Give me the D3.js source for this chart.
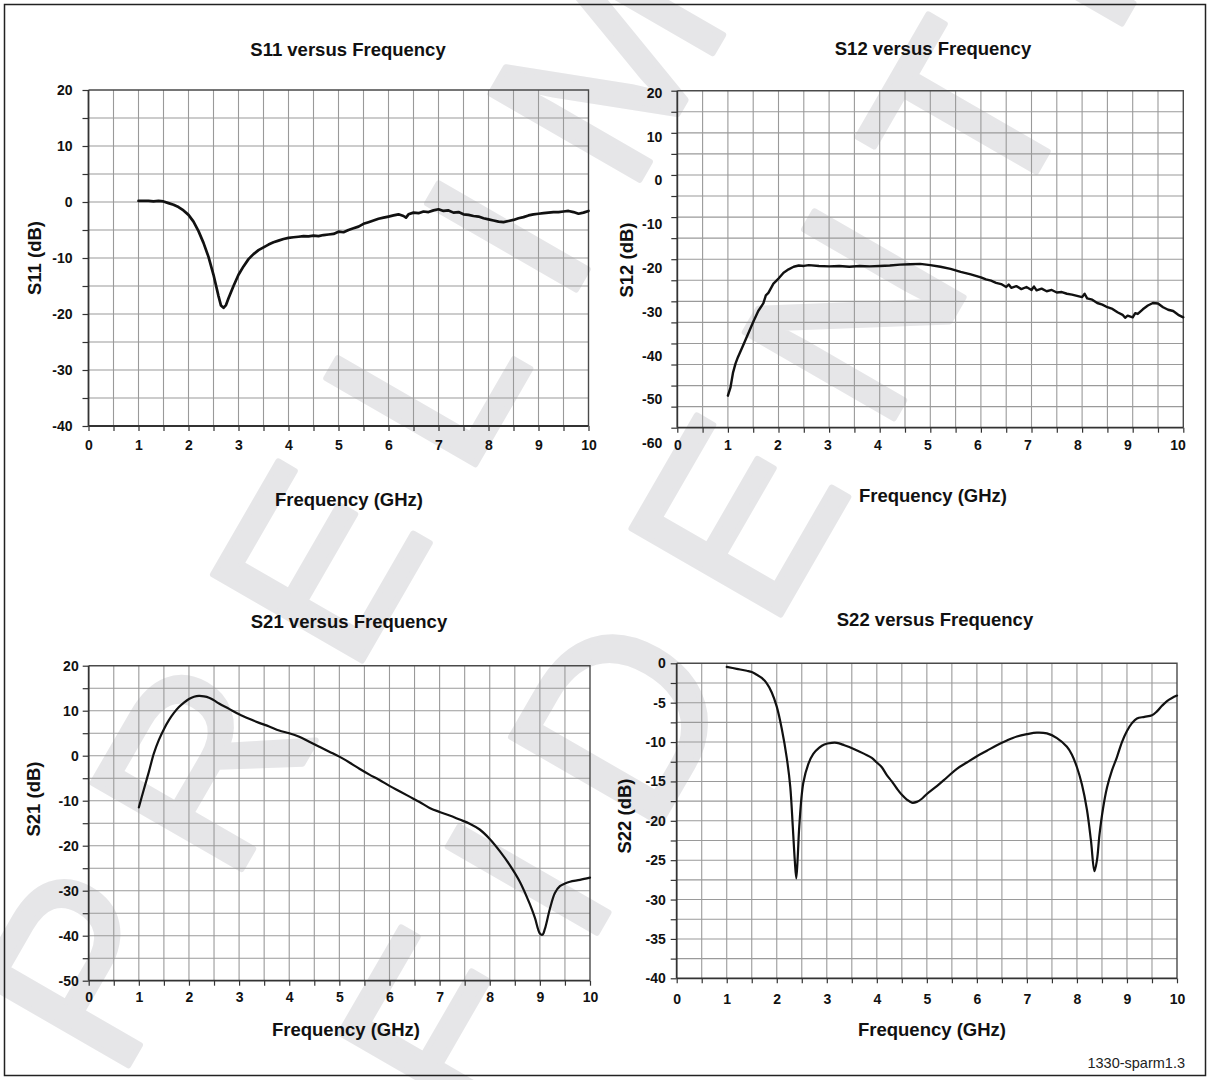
<!DOCTYPE html>
<html><head><meta charset="utf-8">
<script src="https://cdn.jsdelivr.net/npm/d3@7"></script>
<style>
body{margin:0;background:#fff}
svg{display:block}
text{font-family:"Liberation Sans",Arial,Helvetica,sans-serif}
</style>
</head><body>
<svg id="chart" width="1212" height="1080"></svg>
<script>
// ---------- data ----------
const freqTicks = [0,1,2,3,4,5,6,7,8,9,10];
const s11Ticks = [20,10,0,-10,-20,-30,-40];
const s12Ticks = [20,10,0,-10,-20,-30,-40,-50,-60];
const s21Ticks = [20,10,0,-10,-20,-30,-40,-50];
const s22Ticks = [0,-5,-10,-15,-20,-25,-30,-35,-40];

const s11Freq = [1.0,1.1,1.2,1.3,1.4,1.5,1.6,1.7,1.8,1.9,2.0,2.1,2.2,2.3,2.4,2.5,2.6,2.65,2.7,2.75,2.8,2.9,3.0,3.1,3.2,3.3,3.4,3.5,3.6,3.7,3.8,3.9,4.0,4.1,4.2,4.3,4.4,4.5,4.6,4.7,4.8,4.9,5.0,5.1,5.2,5.3,5.4,5.5,5.6,5.7,5.8,5.9,6.0,6.1,6.2,6.3,6.35,6.4,6.5,6.6,6.7,6.8,6.9,7.0,7.1,7.2,7.3,7.4,7.5,7.6,7.7,7.8,7.9,8.0,8.1,8.2,8.3,8.4,8.5,8.6,8.7,8.8,8.9,9.0,9.1,9.2,9.3,9.4,9.5,9.6,9.7,9.8,9.9,10.0];
const s11Db = [0.2,0.2,0.2,0.1,0.2,0.1,-0.2,-0.5,-0.9,-1.5,-2.3,-3.5,-5.2,-7.3,-9.8,-13.0,-16.8,-18.5,-18.9,-18.4,-17.2,-15.0,-13.0,-11.5,-10.2,-9.3,-8.6,-8.1,-7.6,-7.2,-6.9,-6.6,-6.4,-6.3,-6.2,-6.1,-6.15,-6.0,-6.1,-5.9,-5.8,-5.7,-5.3,-5.4,-5.0,-4.7,-4.4,-3.9,-3.6,-3.3,-3.0,-2.8,-2.6,-2.4,-2.2,-2.5,-2.8,-2.2,-1.9,-2.0,-1.7,-1.8,-1.5,-1.3,-1.6,-1.5,-1.9,-1.8,-2.2,-2.3,-2.5,-2.6,-2.9,-3.1,-3.3,-3.5,-3.6,-3.4,-3.2,-2.9,-2.7,-2.4,-2.2,-2.1,-2.0,-1.9,-1.8,-1.8,-1.7,-1.6,-1.8,-2.1,-1.9,-1.6];

const s12Freq = [1.0,1.05,1.1,1.15,1.2,1.3,1.4,1.5,1.6,1.7,1.75,1.8,1.9,2.0,2.1,2.2,2.3,2.4,2.5,2.6,2.8,3.0,3.2,3.4,3.6,3.8,4.0,4.2,4.4,4.6,4.8,5.0,5.2,5.4,5.6,5.8,6.0,6.1,6.2,6.3,6.4,6.5,6.55,6.6,6.7,6.8,6.9,7.0,7.05,7.1,7.2,7.3,7.4,7.5,7.6,7.7,7.8,7.9,8.0,8.05,8.1,8.2,8.3,8.4,8.5,8.6,8.7,8.8,8.85,8.9,9.0,9.05,9.1,9.2,9.3,9.4,9.5,9.6,9.7,9.8,9.9,10.0];
const s12Db = [-52.4,-50.5,-47.0,-44.8,-43.2,-40.5,-37.7,-34.9,-32.3,-30.5,-28.6,-28.0,-25.8,-24.6,-23.2,-22.4,-21.8,-21.5,-21.6,-21.4,-21.6,-21.7,-21.6,-21.8,-21.6,-21.7,-21.6,-21.5,-21.3,-21.2,-21.1,-21.4,-21.8,-22.3,-23.0,-23.6,-24.3,-24.8,-25.1,-25.6,-25.9,-26.6,-26.0,-26.8,-26.4,-27.1,-26.6,-27.3,-26.5,-27.4,-27.0,-27.6,-27.3,-27.9,-27.8,-28.2,-28.4,-28.7,-29.0,-28.2,-29.3,-29.6,-30.4,-30.8,-31.4,-31.8,-32.6,-33.2,-33.9,-33.4,-33.8,-32.8,-33.0,-31.9,-31.0,-30.4,-30.5,-31.4,-32.0,-32.3,-33.2,-33.8];

const s21Freq = [1.0,1.1,1.2,1.3,1.4,1.5,1.6,1.7,1.8,1.9,2.0,2.1,2.2,2.3,2.4,2.5,2.6,2.8,3.0,3.2,3.4,3.6,3.8,4.0,4.2,4.4,4.6,4.8,5.0,5.2,5.4,5.6,5.8,6.0,6.2,6.4,6.6,6.8,7.0,7.2,7.4,7.6,7.8,8.0,8.2,8.4,8.6,8.8,8.9,9.0,9.05,9.1,9.2,9.3,9.4,9.5,9.6,9.8,10.0];
const s21Db = [-11.5,-7.5,-3.6,0.5,3.5,5.9,7.9,9.5,10.8,11.8,12.6,13.1,13.3,13.2,12.9,12.3,11.6,10.4,9.2,8.2,7.3,6.5,5.6,5.0,4.2,3.1,2.0,0.9,-0.2,-1.5,-2.9,-4.2,-5.4,-6.7,-7.9,-9.1,-10.3,-11.6,-12.5,-13.3,-14.2,-15.1,-16.4,-18.5,-21.2,-24.3,-28.0,-33.0,-36.0,-39.5,-39.8,-38.5,-34.0,-30.5,-29.0,-28.4,-28.0,-27.6,-27.1];

const s22Freq = [1.0,1.2,1.4,1.5,1.6,1.7,1.8,1.9,2.0,2.1,2.2,2.27,2.32,2.36,2.39,2.42,2.45,2.53,2.63,2.73,2.85,2.95,3.1,3.2,3.35,3.55,3.75,3.9,4.0,4.1,4.2,4.3,4.4,4.5,4.6,4.7,4.8,4.9,5.0,5.2,5.4,5.6,5.8,6.0,6.2,6.4,6.6,6.8,7.0,7.2,7.4,7.6,7.8,7.9,8.0,8.1,8.2,8.28,8.35,8.4,8.45,8.52,8.6,8.7,8.8,8.9,9.0,9.1,9.2,9.35,9.5,9.6,9.7,9.8,9.9,10.0];
const s22Db = [-0.45,-0.7,-0.95,-1.1,-1.45,-1.85,-2.55,-3.7,-5.5,-8.3,-12.0,-15.7,-20.7,-25.0,-27.3,-24.5,-20.7,-15.2,-12.8,-11.5,-10.7,-10.3,-10.1,-10.1,-10.4,-10.9,-11.5,-12.0,-12.6,-13.2,-14.2,-15.0,-15.9,-16.7,-17.3,-17.7,-17.6,-17.2,-16.6,-15.6,-14.5,-13.4,-12.6,-11.8,-11.1,-10.4,-9.8,-9.3,-9.0,-8.8,-8.9,-9.5,-10.6,-11.6,-13.2,-15.4,-18.6,-22.5,-26.4,-25.0,-21.8,-18.5,-15.8,-13.6,-11.9,-10.0,-8.6,-7.6,-7.0,-6.8,-6.6,-6.1,-5.4,-4.8,-4.4,-4.1];

const titles = ["S11 versus Frequency","S12 versus Frequency","S21 versus Frequency","S22 versus Frequency"];
const yTitles = ["S11 (dB)","S12 (dB)","S21 (dB)","S22 (dB)"];
const xTitle = "Frequency (GHz)";
const watermarkWords = ["PRELIMINARY","CONFIDENTIAL"];
const footnote = "1330-sparm1.3";

// ---------- drawing ----------
const svg = d3.select("#chart");
svg.append("rect").attr("width",1212).attr("height",1080).attr("fill","#fff");

// watermark (rotated, regular weight, spaced letters)
const wm = svg.append("g").attr("fill","#e6e6e8").attr("stroke","#e6e6e8").attr("stroke-width",6)
  .attr("stroke-linejoin","round").attr("font-weight","normal").attr("font-size",250)
  .attr("letter-spacing",60);
wm.append("text").attr("transform","translate(118,1083) rotate(-60)").text(watermarkWords[0]);
wm.append("text").attr("transform","translate(111,1774) rotate(-60)").text(watermarkWords[1]);

svg.append("rect").attr("x",4.5).attr("y",4.5).attr("width",1201).attr("height",1071)
  .attr("fill","none").attr("stroke","#222").attr("stroke-width",1.5);

const numFmt = d => String(d);

function drawChart(o){
  const x = d3.scaleLinear().domain([0,10]).range([o.x0,o.x1]);
  const y = d3.scaleLinear().domain([o.yMax,o.yMin]).range([o.y0,o.y1]);
  const xl = o.xLabelRange ? d3.scaleLinear().domain([0,10]).range(o.xLabelRange) : x;
  const yl = o.yLabelRange ? d3.scaleLinear().domain([o.yMax,o.yMin]).range(o.yLabelRange) : y;
  const g = svg.append("g");
  const xMinor = d3.range(0,10.001,0.5);
  const yMinor = d3.range(o.yMin,o.yMax+0.001,o.yStep);
  // grid
  g.append("g").selectAll("line").data(xMinor.slice(1,-1)).join("line")
    .attr("x1",d=>x(d)).attr("x2",d=>x(d)).attr("y1",o.y0).attr("y2",o.y1)
    .attr("stroke","#9a9a9a").attr("stroke-width",1.1);
  g.append("g").selectAll("line").data(yMinor.slice(1,-1)).join("line")
    .attr("x1",o.x0).attr("x2",o.x1).attr("y1",d=>y(d)).attr("y2",d=>y(d))
    .attr("stroke","#9a9a9a").attr("stroke-width",1.1);
  // frame top/right
  g.append("path").attr("d",`M${o.x0},${o.y0}H${o.x1}V${o.y1}`)
    .attr("fill","none").attr("stroke","#4a4a4a").attr("stroke-width",1.4);
  // tick marks via axes
  const ax = g.append("g").attr("transform",`translate(0,${o.y1})`)
    .call(d3.axisBottom(x).tickValues(xMinor).tickSize(5).tickFormat(""));
  const ay = g.append("g").attr("transform",`translate(${o.x0},0)`)
    .call(d3.axisLeft(y).tickValues(yMinor).tickSize(6).tickFormat(""));
  [ax,ay].forEach(a=>{a.select(".domain").attr("stroke","#333").attr("stroke-width",1.8);
    a.selectAll(".tick line").attr("stroke","#333").attr("stroke-width",1.2);});
  ay.select(".domain").attr("d",`M0,${o.y0}V${o.y1}`);
  ax.select(".domain").attr("d",`M${o.x0},0H${o.x1}`);
  // labels via axes
  const lx = g.append("g").attr("transform",`translate(0,${o.y1+o.xLabOff})`)
    .call(d3.axisBottom(xl).tickValues(freqTicks).tickSize(0).tickPadding(0).tickFormat(numFmt));
  lx.select(".domain").remove();
  lx.selectAll("text").attr("dy","0.35em").attr("y",0);
  const ly = g.append("g").attr("transform",`translate(${o.x0-o.yLabOff},0)`)
    .call(d3.axisLeft(yl).tickValues(o.yTicks).tickSize(0).tickPadding(0).tickFormat(numFmt));
  ly.select(".domain").remove();
  [lx,ly].forEach(a=>a.selectAll("text").attr("font-family","'Liberation Sans',Arial,sans-serif")
    .attr("font-size",14).attr("font-weight","bold").attr("fill","#111"));
  // curve
  const pts = o.freq.map((f,i)=>[f,o.db[i]]);
  g.append("path").datum(pts).attr("fill","none").attr("stroke","#111")
    .attr("stroke-width",o.sw).attr("stroke-linejoin","round").attr("stroke-linecap","round")
    .attr("d",d3.line().x(d=>x(d[0])).y(d=>y(d[1])).curve(o.curve));
  // titles
  g.append("text").attr("x",o.tx).attr("y",o.ty).attr("text-anchor","middle").attr("dy","0.35em")
    .attr("font-size",18.5).attr("font-weight","bold").attr("fill","#111").text(o.title);
  g.append("text").attr("x",o.fx).attr("y",o.fy).attr("text-anchor","middle").attr("dy","0.35em")
    .attr("font-size",18.5).attr("font-weight","bold").attr("fill","#111").text(xTitle);
  g.append("text").attr("transform",`translate(${o.yx},${o.yy}) rotate(-90)`).attr("text-anchor","middle").attr("dy","0.35em")
    .attr("font-size",18.5).attr("font-weight","bold").attr("fill","#111").text(o.ytitle);
}

drawChart({x0:88.5,x1:588.5,y0:90,y1:426,yMax:20,yMin:-40,yStep:5,yTicks:s11Ticks,
  xLabOff:19,yLabOff:16,freq:s11Freq,db:s11Db,sw:2.7,curve:d3.curveLinear,
  title:titles[0],tx:348,ty:50,fx:349,fy:500,ytitle:yTitles[0],yx:35,yy:258});
drawChart({x0:677.3,x1:1183.3,y0:90.7,y1:427.7,yMax:20,yMin:-60,yStep:5,yTicks:s12Ticks,
  xLabelRange:[677.3,1177.5],yLabelRange:[92.7,443.3],
  xLabOff:17.5,yLabOff:15,freq:s12Freq,db:s12Db,sw:2.4,curve:d3.curveLinear,
  title:titles[1],tx:933,ty:49,fx:933,fy:496,ytitle:yTitles[1],yx:627,yy:260});
drawChart({x0:88.7,x1:590,y0:665.7,y1:980.7,yMax:20,yMin:-50,yStep:5,yTicks:s21Ticks,
  xLabOff:16.5,yLabOff:10,freq:s21Freq,db:s21Db,sw:2.2,curve:d3.curveCatmullRom.alpha(0.5),
  title:titles[2],tx:349,ty:622,fx:346,fy:1030,ytitle:yTitles[2],yx:34,yy:799});
drawChart({x0:676.7,x1:1177,y0:663.3,y1:978.3,yMax:0,yMin:-40,yStep:2.5,yTicks:s22Ticks,
  xLabOff:21,yLabOff:11,freq:s22Freq,db:s22Db,sw:2.2,curve:d3.curveCatmullRom.alpha(0.5),
  title:titles[3],tx:935,ty:620,fx:932,fy:1030,ytitle:yTitles[3],yx:625,yy:816});

svg.append("text").attr("x",1185).attr("y",1068).attr("text-anchor","end")
  .attr("font-size",14.5).attr("fill","#222").text(footnote);
</script>
</body></html>
